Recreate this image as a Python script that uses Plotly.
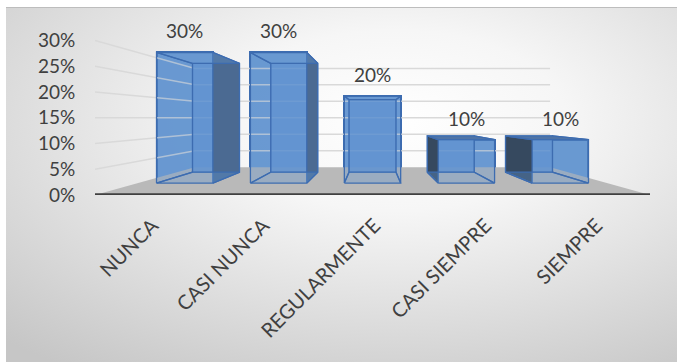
import base64
import plotly.graph_objects as go

# Survey answer categories and their shares (percent)
categories = ["NUNCA", "CASI NUNCA", "REGULARMENTE", "CASI SIEMPRE", "SIEMPRE"]
values = [30, 30, 20, 10, 10]
value_labels = ["30%", "30%", "20%", "10%", "10%"]
y_ticks = [0, 5, 10, 15, 20, 25, 30]
y_tick_labels = ["0%", "5%", "10%", "15%", "20%", "25%", "30%"]

# Simple perspective: points shrink toward a vanishing point at the centre of the box
VP_X, VP_Y = 2.0, 15.0
S_FRONT, S_BACK, S_WALL = 0.846, 0.705, 0.64   # scale of bar front, bar back, back wall
HALF_W = 0.3

def proj(x, y, s):
    return VP_X + (x - VP_X) * s, VP_Y + (y - VP_Y) * s

def poly(pts):
    xs = [p[0] for p in pts] + [pts[0][0]]
    ys = [p[1] for p in pts] + [pts[0][1]]
    return xs, ys

fig = go.Figure()

# Floor
floor = [proj(-0.5, 0, 1), proj(4.5, 0, 1), proj(4.5, 0, S_WALL), proj(-0.5, 0, S_WALL)]
fx, fy = poly(floor)
fig.add_trace(go.Scatter(x=fx, y=fy, fill="toself", fillcolor="#b9b9b9", mode="lines",
                         line=dict(width=0), hoverinfo="skip", showlegend=False))

# Gridlines on back wall and left wall
gx, gy = [], []
for t in y_ticks[1:]:
    a = proj(-0.5, t, 1)
    b = proj(-0.5, t, S_WALL)
    c = proj(4.5, t, S_WALL)
    gx += [a[0], b[0], c[0], None]
    gy += [a[1], b[1], c[1], None]
fig.add_trace(go.Scatter(x=gx, y=gy, mode="lines", line=dict(color="#d9d9d9", width=1.5),
                         hoverinfo="skip", showlegend=False))

EDGE = "#3d6cb0"
LIGHT_FILL = "rgba(98,148,208,0.35)"

for i, v in enumerate(values):
    c = float(i)
    x0, x1 = c - HALF_W, c + HALF_W
    # back face
    bx, by = poly([proj(x0, 0, S_BACK), proj(x1, 0, S_BACK), proj(x1, v, S_BACK), proj(x0, v, S_BACK)])
    fig.add_trace(go.Scatter(x=bx, y=by, fill="toself", fillcolor="rgba(98,148,208,0.9)",
                             mode="lines", line=dict(color="#5a8ccc", width=1.2),
                             hoverinfo="skip", showlegend=False))
    faces = []
    # left and right sides
    for xs, side in ((x0, "left"), (x1, "right")):
        pts = [proj(xs, 0, S_FRONT), proj(xs, v, S_FRONT), proj(xs, v, S_BACK), proj(xs, 0, S_BACK)]
        visible = (side == "right" and c < VP_X - 0.1) or (side == "left" and c > VP_X + 0.1)
        if visible:
            fill = "#4b6a92" if side == "right" else "#36495f"
        else:
            fill = LIGHT_FILL
        faces.append((pts, fill))
    # top and bottom
    for ys in (0, v):
        pts = [proj(x0, ys, S_FRONT), proj(x1, ys, S_FRONT), proj(x1, ys, S_BACK), proj(x0, ys, S_BACK)]
        fill = "#4f74a6" if (ys == v and v < VP_Y) else LIGHT_FILL
        faces.append((pts, fill))
    for pts, fill in faces:
        px, py = poly(pts)
        fig.add_trace(go.Scatter(x=px, y=py, fill="toself", fillcolor=fill, mode="lines",
                                 line=dict(color=EDGE, width=1.3),
                                 hoverinfo="skip", showlegend=False))

# Front faces of the bars
front_x, front_base, front_h, front_w = [], [], [], []
for i, v in enumerate(values):
    cx, b = proj(i, 0, S_FRONT)
    _, t = proj(i, v, S_FRONT)
    front_x.append(cx)
    front_base.append(b)
    front_h.append(t - b)
    front_w.append(2 * HALF_W * S_FRONT)
fig.add_trace(go.Bar(x=front_x, y=front_h, base=front_base, width=front_w,
                     marker=dict(color="rgba(91,142,205,0.88)", line=dict(color=EDGE, width=2)),
                     hoverinfo="skip", showlegend=False))

# Value labels
for i, v in enumerate(values):
    cx, top = proj(i, v, S_FRONT)
    fig.add_annotation(x=cx, y=top, text=value_labels[i], showarrow=False,
                       yanchor="bottom", yshift=8,
                       font=dict(family="Lato", size=19, color="#404040"))

# Chart background with a soft radial gradient
svg = """<svg xmlns="http://www.w3.org/2000/svg" width="671" height="355" viewBox="0 0 671 355" preserveAspectRatio="none">
<defs><radialGradient id="g" cx="0.58" cy="0.32" r="0.85" fx="0.58" fy="0.32">
<stop offset="0" stop-color="#ffffff"/><stop offset="0.3" stop-color="#f6f6f6"/><stop offset="1" stop-color="#c6c6c6"/>
</radialGradient></defs>
<rect width="671" height="355" fill="url(#g)"/>
<line x1="0" y1="0.5" x2="671" y2="0.5" stroke="#bdbdbd" stroke-width="1"/>
</svg>"""
src = "data:image/svg+xml;base64," + base64.b64encode(svg.encode()).decode()

W, H = 677, 362
ML, MR, MT, MB = 95, 27, 20, 167
pw, ph = W - ML - MR, H - MT - MB
fig.add_layout_image(dict(source=src, xref="paper", yref="paper",
                          x=(6 - ML) / pw, y=(H - MB - 7) / ph,
                          sizex=(W - 6) / pw, sizey=(H - 7) / ph,
                          xanchor="left", yanchor="top", sizing="stretch", layer="below"))

# Front edge of the floor
fig.add_shape(type="line", x0=-0.5, x1=4.5, y0=0, y1=0, xref="x", yref="y",
              line=dict(color="#404040", width=3.5))

fig.update_layout(
    width=W, height=H,
    margin=dict(l=ML, r=MR, t=MT, b=MB),
    paper_bgcolor="white", plot_bgcolor="rgba(0,0,0,0)",
    bargap=0,
    xaxis=dict(range=[-0.5, 4.5], tickvals=list(range(len(categories))), ticktext=categories,
               tickangle=-45, showgrid=False, zeroline=False, showline=False,
               ticks="outside", ticklen=10, tickcolor="rgba(0,0,0,0)", ticklabelshift=2,
               tickfont=dict(family="Lato", size=20, color="#404040")),
    yaxis=dict(range=[0, 34], tickvals=y_ticks, ticktext=y_tick_labels,
               showgrid=False, zeroline=False, showline=False,
               ticks="outside", ticklen=15, tickcolor="rgba(0,0,0,0)",
               tickfont=dict(family="Lato", size=19, color="#404040")),
)

fig.write_html("out.html")
